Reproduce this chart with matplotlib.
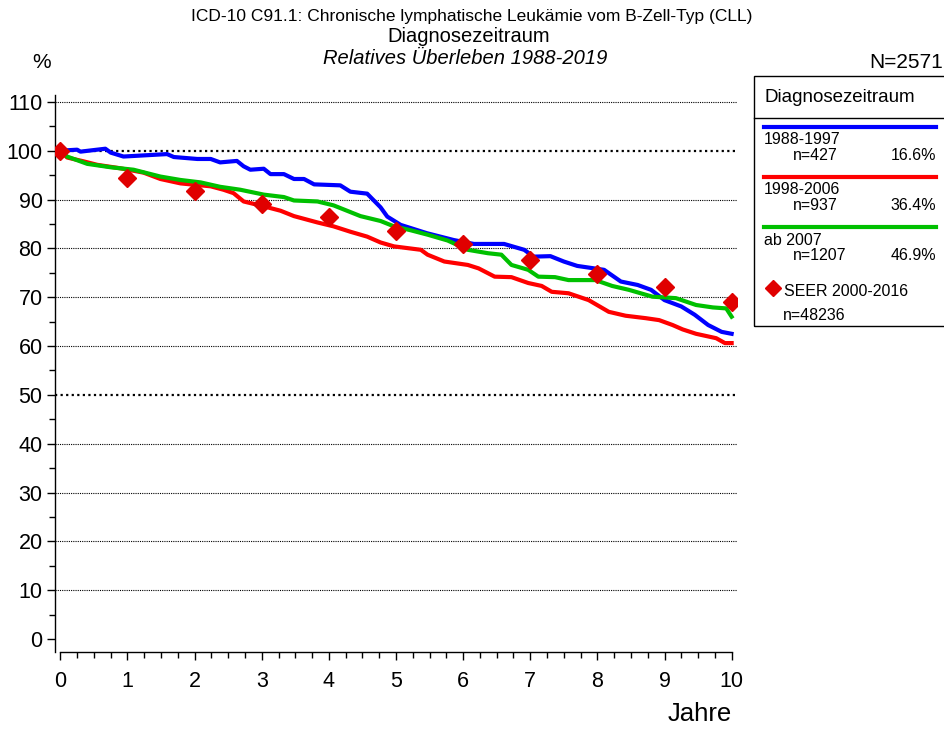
import matplotlib.pyplot as plt
from matplotlib.lines import Line2D
from matplotlib.patches import Rectangle
from matplotlib.ticker import MultipleLocator

plt.rcParams["font.family"] = ["Liberation Sans", "DejaVu Sans"]

# relative survival curves (years, percent)
t_1988 = [0, 0.25, 0.3, 0.67, 0.75, 0.94, 1.2, 1.59, 1.69, 2.04, 2.24, 2.38, 2.63,
          2.73, 2.83, 3.03, 3.13, 3.33, 3.48, 3.63, 3.78, 4.17, 4.32, 4.57, 4.77,
          4.87, 5.07, 5.46, 5.86, 6.16, 6.61, 6.91, 7.05, 7.3, 7.5, 7.7, 8.1, 8.35,
          8.6, 8.8, 9.0, 9.25, 9.45, 9.65, 9.85, 10.0]
v_1988 = [100, 100.2, 99.8, 100.4, 99.6, 98.8, 99.0, 99.3, 98.7, 98.3, 98.3, 97.6, 97.9,
          96.8, 96.1, 96.3, 95.2, 95.2, 94.2, 94.2, 93.1, 92.9, 91.6, 91.2, 88.4,
          86.5, 84.8, 83.1, 81.7, 80.9, 80.9, 79.7, 78.3, 78.4, 77.3, 76.4, 75.6, 73.2,
          72.5, 71.5, 69.4, 68.1, 66.4, 64.3, 62.9, 62.5]

t_1998 = [0, 0.1, 0.35, 0.55, 0.89, 1.24, 1.49, 1.79, 2.24, 2.43, 2.58, 2.73, 3.03,
          3.28, 3.48, 3.83, 4.07, 4.32, 4.57, 4.77, 4.97, 5.37, 5.47, 5.72, 6.07,
          6.23, 6.47, 6.72, 6.97, 7.17, 7.32, 7.57, 7.87, 8.17, 8.42, 8.72, 8.92,
          9.12, 9.27, 9.47, 9.77, 9.9, 10.0]
v_1998 = [100, 98.6, 97.8, 97.1, 96.4, 95.5, 94.2, 93.3, 92.7, 92.0, 91.3, 89.6, 88.6,
          87.7, 86.6, 85.3, 84.5, 83.4, 82.4, 81.2, 80.4, 79.7, 78.7, 77.3, 76.6,
          75.9, 74.2, 74.1, 72.9, 72.3, 71.1, 70.8, 69.4, 67.0, 66.2, 65.7, 65.3,
          64.3, 63.4, 62.5, 61.6, 60.6, 60.6]

t_2007 = [0, 0.1, 0.4, 0.75, 1.09, 1.49, 1.79, 2.09, 2.38, 2.68, 3.03, 3.33, 3.48,
          3.83, 4.07, 4.27, 4.47, 4.77, 4.97, 5.22, 5.47, 5.77, 6.07, 6.37, 6.57,
          6.72, 6.97, 7.12, 7.37, 7.57, 7.97, 8.22, 8.47, 8.82, 9.17, 9.47, 9.72,
          9.92, 10.0]
v_2007 = [100, 98.8, 97.3, 96.6, 96.1, 94.7, 94.0, 93.5, 92.6, 92.0, 91.0, 90.5, 89.8,
          89.6, 88.8, 87.7, 86.6, 85.6, 84.5, 83.7, 82.8, 81.6, 79.7, 79.0, 78.7,
          76.6, 75.6, 74.2, 74.1, 73.5, 73.5, 72.3, 71.5, 70.1, 69.8, 68.4, 67.9,
          67.7, 66.0]

seer_years = [0, 1, 2, 3, 4, 5, 6, 7, 8, 9, 10]
seer_values = [100, 94.4, 91.8, 89.1, 86.4, 83.5, 80.8, 77.7, 74.8, 72.0, 69.0]

series_labels = ["1988-1997", "1998-2006", "ab 2007"]
series_n = ["n=427", "n=937", "n=1207"]
series_pct = ["16.6%", "36.4%", "46.9%"]
series_colors = ["#0000ff", "#ff0000", "#00c000"]

fig = plt.figure(figsize=(9.44, 7.29), dpi=100)
ax = fig.add_axes([55 / 944, 1 - 652 / 729, 682 / 944, 557 / 729])

ax.set_xlim(-0.08, 10.08)
ax.set_ylim(-2.66, 111.4)

for v in range(10, 111, 10):
    heavy = v in (50, 100)
    ax.axhline(v, color="black", linestyle=(0, (1, 1.5)) if heavy else (0, (1, 1)),
               lw=1.6 if heavy else 0.8, zorder=1)

for t, v, c in zip([t_1988, t_1998, t_2007], [v_1988, v_1998, v_2007], series_colors):
    ax.plot(t, v, color=c, lw=3, zorder=3)

ax.plot(seer_years, seer_values, linestyle="none", marker="D", ms=9,
        color="#e00000", zorder=4)

for s in ("top", "right"):
    ax.spines[s].set_visible(False)
ax.spines["left"].set_linewidth(1)
ax.spines["bottom"].set_linewidth(1)
ax.spines["bottom"].set_bounds(0, 10)

ax.yaxis.set_major_locator(MultipleLocator(10))
ax.yaxis.set_minor_locator(MultipleLocator(5))
ax.xaxis.set_major_locator(MultipleLocator(1))
ax.xaxis.set_minor_locator(MultipleLocator(0.25))
ax.tick_params(axis="both", which="major", direction="out", length=6, width=1,
               labelsize=15.5)
ax.tick_params(axis="both", which="minor", direction="out", length=4, width=1)
ax.tick_params(axis="x", pad=8)
ax.tick_params(axis="y", pad=3)

# titles
fig.text(472 / 944, 1 - 16 / 729, "ICD-10 C91.1: Chronische lymphatische Leukämie vom B-Zell-Typ (CLL)",
         ha="center", va="center", fontsize=12.5)
fig.text(469 / 944, 1 - 37 / 729, "Diagnosezeitraum", ha="center", va="center", fontsize=14.5)
fig.text(465 / 944, 1 - 59 / 729, "Relatives Überleben 1988-2019", ha="center", va="center",
         fontsize=14.5, style="italic")
fig.text(42 / 944, 1 - 62 / 729, "%", ha="center", va="center", fontsize=15)
fig.text(943 / 944, 1 - 62 / 729, "N=2571", ha="right", va="center", fontsize=15)
fig.text(732 / 944, 1 - 714 / 729, "Jahre", ha="right", va="center", fontsize=18.5)

# legend box
W, H = 944, 729
fig.add_artist(Rectangle((754 / W, 1 - 326 / H), 200 / W, 250 / H, transform=fig.transFigure,
                         fill=False, edgecolor="black", lw=1))
fig.add_artist(Line2D([754 / W, 1], [1 - 118 / H] * 2, transform=fig.transFigure,
                      color="black", lw=1))
fig.text(764 / W, 1 - 97 / H, "Diagnosezeitraum", ha="left", va="center", fontsize=13.5)
for i, (lab, n, pct, c) in enumerate(zip(series_labels, series_n, series_pct, series_colors)):
    y0 = 127 + 50 * i
    fig.add_artist(Line2D([764 / W, 936 / W], [1 - y0 / H] * 2, transform=fig.transFigure,
                          color=c, lw=3))
    fig.text(764 / W, 1 - (y0 + 13) / H, lab, ha="left", va="center", fontsize=11.5)
    fig.text(793 / W, 1 - (y0 + 28) / H, n, ha="left", va="center", fontsize=11.5)
    fig.text(936 / W, 1 - (y0 + 28) / H, pct, ha="right", va="center", fontsize=11.5)
fig.add_artist(Line2D([773 / W], [1 - 288 / H], transform=fig.transFigure, marker="D",
                      ms=8, color="#e00000", linestyle="none"))
fig.text(784 / W, 1 - 292 / H, "SEER 2000-2016", ha="left", va="center", fontsize=11.5)
fig.text(783 / W, 1 - 316 / H, "n=48236", ha="left", va="center", fontsize=11.5)

fig.savefig("out.png", dpi=100)
